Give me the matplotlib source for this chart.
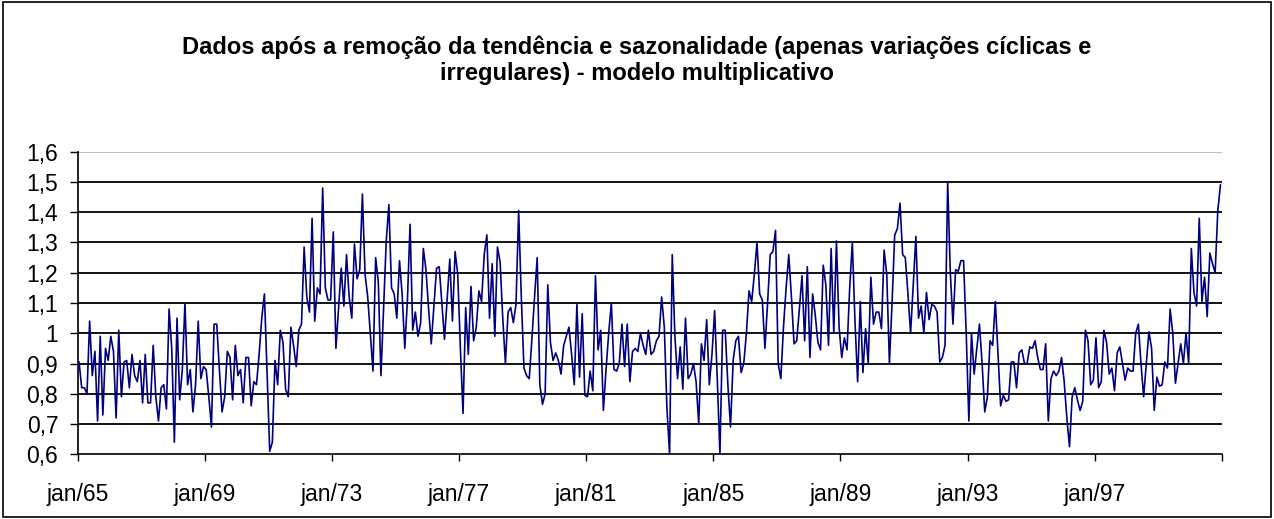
import matplotlib
matplotlib.use("Agg")
import matplotlib.pyplot as plt
from matplotlib.patches import Rectangle
import numpy as np

plt.rcParams['font.family'] = ['Liberation Sans', 'DejaVu Sans']

titulo = ("Dados após a remoção da tendência e sazonalidade (apenas variações cíclicas e\n"
          "irregulares) - modelo multiplicativo")

# valores mensais jan/65 .. dez/00
v_65_68 = [0.905, 0.82, 0.82, 0.80, 1.04, 0.86, 0.94, 0.71, 0.99, 0.73,
           0.95, 0.91, 0.99, 0.94, 0.72, 1.01, 0.79, 0.905, 0.91, 0.82,
           0.93, 0.86, 0.84, 0.91, 0.77, 0.93, 0.77, 0.77, 0.96, 0.79,
           0.71, 0.82, 0.83, 0.75, 1.08, 0.95, 0.64, 1.05, 0.78]
v_68_71 = [0.88, 1.10, 0.83, 0.88, 0.74, 0.83, 1.04, 0.85, 0.89, 0.88,
           0.79, 0.69, 1.03, 1.03, 0.88, 0.74, 0.79, 0.94, 0.92, 0.78,
           0.96, 0.86, 0.88, 0.77, 0.92, 0.92, 0.76, 0.84, 0.83, 0.93,
           1.05, 1.13, 0.87, 0.61, 0.64, 0.91, 0.83, 1.01, 0.97, 0.815,
           0.79, 1.02, 0.96, 0.89, 1.01]
v_72_75 = [1.03, 1.285, 1.12, 1.07, 1.38, 1.04, 1.15, 1.13, 1.48, 1.15,
           1.11, 1.11, 1.335, 0.95, 1.08, 1.215, 1.09, 1.26, 1.12, 1.05,
           1.295, 1.18, 1.21, 1.46, 1.195, 1.12, 1.0, 0.875, 1.25, 1.17,
           0.86, 1.08, 1.305, 1.425, 1.15, 1.13, 1.05, 1.24, 1.13, 0.95,
           1.11, 1.36, 1.01, 1.07, 0.99]
v_75_79 = [1.035, 1.28, 1.21, 1.08, 0.965, 1.09, 1.215, 1.22, 1.10, 0.98,
           1.11, 1.245, 1.04, 1.27, 1.195, 0.95, 0.735, 1.085, 0.93, 1.155,
           0.975, 1.02, 1.14, 1.105, 1.26, 1.325, 1.05, 1.23, 0.99, 1.285,
           1.235, 1.05, 0.90, 1.07, 1.085, 1.035, 1.095, 1.405, 1.12, 0.885,
           0.86, 0.85, 0.98, 1.12, 1.25, 0.83]
v_79_83 = [0.765, 0.80, 1.16, 0.97, 0.91, 0.935, 0.91, 0.865, 0.96, 0.99,
           1.02, 0.93, 0.83, 1.095, 0.855, 1.065, 0.795, 0.79, 0.875, 0.81,
           1.19, 0.945, 1.01, 0.745, 0.88, 1.0, 1.10, 0.88, 0.875, 0.90,
           1.03, 0.89, 1.03, 0.84, 0.94, 0.95, 0.94, 1.0, 0.96, 0.93,
           1.01, 0.93, 0.94, 0.975, 0.99]
v_83_87 = [1.12, 1.02, 0.75, 0.60, 1.26, 0.99, 0.85, 0.955, 0.815, 1.05,
           0.85, 0.865, 0.90, 0.84, 0.70, 0.965, 0.91, 1.045, 0.83, 0.93,
           1.075, 0.85, 0.60, 1.01, 1.01, 0.83, 0.69, 0.91, 0.975, 0.99,
           0.87, 0.90, 1.0, 1.14, 1.105, 1.195, 1.30, 1.13, 1.11, 0.95,
           1.10, 1.26, 1.27, 1.34, 0.90]
v_87_90 = [0.85, 1.02, 1.15, 1.26, 1.12, 0.965, 0.975, 1.08, 1.19, 0.975,
           1.22, 0.92, 1.13, 1.06, 0.97, 0.945, 1.225, 1.16, 0.96, 1.28,
           1.0, 1.305, 1.02, 0.92, 0.985, 0.945, 1.15, 1.30, 1.04, 0.84,
           1.105, 0.87, 1.015, 0.90, 1.185, 1.03, 1.07, 1.07, 1.015, 1.275,
           1.195, 0.90, 1.10]
v_90_94 = [1.325, 1.345, 1.43, 1.26, 1.25, 1.13, 1.0, 1.16, 1.32, 1.05,
           1.09, 1.0, 1.135, 1.045, 1.095, 1.09, 1.07, 0.905, 0.92, 0.96,
           1.50, 1.20, 1.03, 1.21, 1.205, 1.24, 1.24, 1.0, 0.71, 1.0,
           0.865, 0.95, 1.03, 0.90, 0.74, 0.79, 0.975, 0.96, 1.105, 0.93,
           0.76, 0.795, 0.775, 0.78, 0.905]
v_94_00 = [0.905, 0.82, 0.935, 0.945, 0.90, 0.90, 0.955, 0.95, 0.975, 0.92,
           0.88, 0.88, 0.965, 0.71, 0.85, 0.875, 0.86, 0.875, 0.92, 0.84,
           0.72, 0.625, 0.79, 0.82, 0.78, 0.745, 0.775, 1.01, 0.975, 0.83,
           0.845, 0.985, 0.82, 0.84, 1.01, 0.97, 0.865, 0.885, 0.81, 0.935,
           0.955, 0.90, 0.845, 0.885, 0.875, 0.875, 1.0, 1.03, 0.90, 0.79,
           0.90, 1.005, 0.95, 0.745, 0.855, 0.825, 0.83, 0.905, 0.885, 1.08,
           1.0, 0.835, 0.90, 0.965, 0.90, 1.0, 0.90, 1.28, 1.135, 1.09,
           1.38, 1.105, 1.185, 1.055, 1.265, 1.23, 1.20, 1.405, 1.49]

valores = (v_65_68 + v_68_71 + v_72_75 + v_75_79 + v_79_83 +
           v_83_87 + v_87_90 + v_90_94 + v_94_00)

rotulos_x = ["jan/65", "jan/69", "jan/73", "jan/77", "jan/81",
             "jan/85", "jan/89", "jan/93", "jan/97", ""]
passo_rotulo = 48
y_ticks = [0.6, 0.7, 0.8, 0.9, 1.0, 1.1, 1.2, 1.3, 1.4, 1.5, 1.6]
rotulos_y = ["0,6", "0,7", "0,8", "0,9", "1", "1,1", "1,2", "1,3", "1,4", "1,5", "1,6"]

n = len(valores)
meses = np.arange(n)

fig = plt.figure(figsize=(12.74, 5.19), dpi=100)
ax = fig.add_axes([0.061, 0.1247, 0.898, 0.583])

# grade horizontal preta (a de cima fica cinza como no excel)
for y in y_ticks[1:-1]:
    ax.axhline(y, color="black", lw=1.3, zorder=1)
ax.axhline(y_ticks[-1], color="#c0c0c0", lw=1.5, zorder=1)

ax.plot(meses, valores, color="#000080", lw=1.2, zorder=3)

ax.set_xlim(-0.5, n - 0.5)
ax.set_ylim(0.6, 1.6)
ax.set_yticks(y_ticks)
ax.set_yticklabels(rotulos_y, fontsize=16.5)
ax.set_xticks(np.arange(0, n + 1, passo_rotulo) - 0.5)
ax.set_xticklabels(rotulos_x, fontsize=16.5)

ax.tick_params(axis="y", direction="out", length=6, width=1, pad=8)
ax.tick_params(axis="x", direction="out", length=5, width=1, pad=16)

for lado in ["top", "right"]:
    ax.spines[lado].set_visible(False)
ax.spines["left"].set_linewidth(1.2)
ax.spines["bottom"].set_linewidth(1.2)

fig.text(0.5, 0.884, titulo, ha="center", va="center", fontsize=17,
         fontweight="bold", linespacing=1.2)

# borda da area do grafico
fig.patches.append(Rectangle((0.002, 0.004), 0.996, 0.992, transform=fig.transFigure,
                             fill=False, edgecolor="black", lw=1.2))

fig.savefig("out.png", dpi=100)
